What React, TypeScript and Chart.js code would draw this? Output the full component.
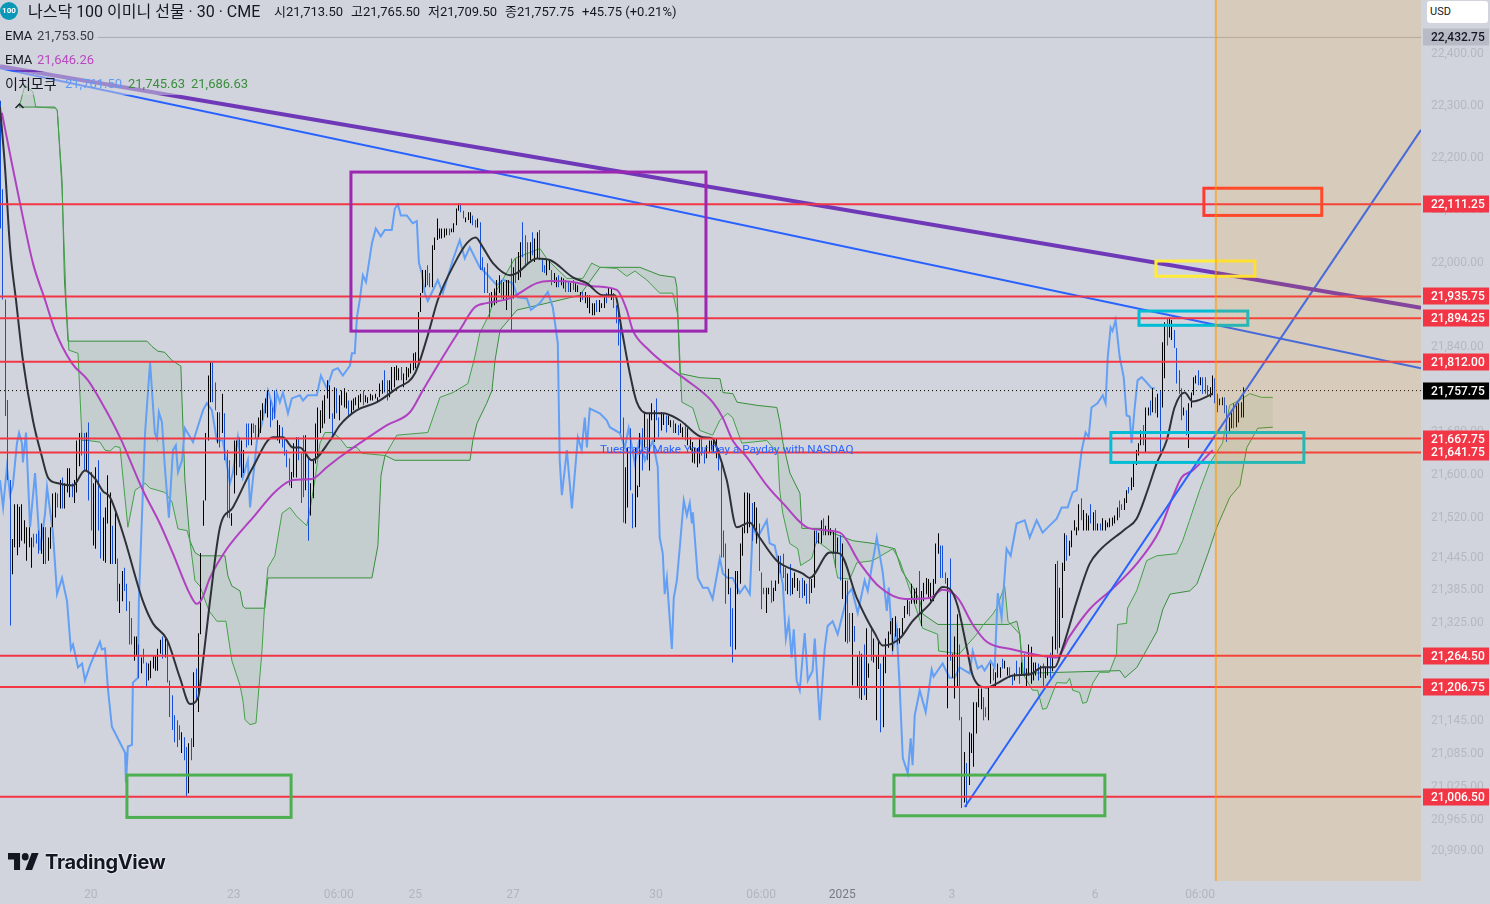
import React, { useEffect, useRef } from "react";
import { Chart, registerables } from "chart.js";

Chart.register(...registerables);

const Y_MIN = 20854;
const Y_MAX = 22505.5;
const X_MAX = 595.6;

const yTicks = [22400, 22300, 22200, 22100, 22000, 21840, 21680, 21600, 21520, 21445, 21385, 21325, 21145, 21085, 21025, 20965, 20909];
const xTickIdx = [38, 98, 142, 174, 215, 275, 319, 353, 399, 459, 503];
const xTickLabels = ["20", "23", "06:00", "25", "27", "30", "06:00", "2025", "3", "6", "06:00"];
const hLevels = [22111.25, 21935.75, 21894.25, 21812.0, 21667.75, 21641.75, 21264.5, 21206.75, 21006.5];
const lastPrice = 21757.75;
const topPrice = 22432.75;

// [bar index, price]
const ema20: number[][] = [[0,22298],[2.1,22182],[4.2,22029],[6.7,21929],[9.6,21815],[13.8,21702],[17.6,21633],[20.1,21595],[24.3,21584],[30.6,21580],[35.6,21608],[39.8,21593],[43.2,21569],[46.1,21558],[51.5,21491],[59.9,21365],[64.1,21324],[70,21294],[75.4,21224],[79.6,21176],[83,21187],[85.1,21255],[88,21365],[92.2,21502],[97.6,21539],[106,21614],[114.4,21670],[118.6,21670],[122.8,21651],[125.7,21651],[130.7,21627],[138.3,21664],[142.5,21693],[149.6,21721],[158,21736],[166.3,21762],[173.9,21790],[179.3,21862],[183.5,21929],[190.6,21999],[195.7,22037],[199.4,22048],[202.4,22029],[206.6,21999],[213.7,21976],[216.6,21980],[225,22008],[230.5,22005],[240.1,21972],[245.9,21961],[252.6,21938],[257.7,21938],[260.6,21872],[264,21790],[266.9,21736],[271.1,21715],[277.8,21715],[284.9,21702],[294.6,21670],[298.7,21668],[300.4,21651],[304.6,21590],[308.8,21502],[314.2,21511],[318.4,21483],[325.6,21440],[336.5,21416],[339.4,21408],[347.8,21455],[352,21453],[359.1,21371],[363.3,21332],[366.6,21306],[370,21283],[377.1,21296],[382.5,21328],[389.7,21360],[395.1,21391],[398,21388],[401.4,21356],[405.2,21279],[407.7,21228],[413.6,21206],[417.7,21213],[424.5,21228],[431.6,21230],[437,21243],[442,21243],[445.4,21279],[451.3,21365],[456.7,21434],[460.9,21459],[471.4,21498],[476.4,21518],[481,21571],[484.8,21621],[489,21664],[492.3,21726],[496.5,21754],[499.9,21737],[502,21739],[508.3,21752]];

const ema60: number[][] = [[0.8,22287],[5,22189],[8.4,22113],[13.8,21999],[18.9,21929],[23,21872],[30.2,21809],[36.9,21777],[44,21724],[50.3,21670],[59.9,21571],[67,21509],[72.5,21453],[79.6,21378],[82.5,21360],[84.6,21369],[88,21408],[95.1,21462],[106,21520],[116,21571],[122.8,21590],[130.7,21592],[137,21614],[142.5,21633],[150.8,21659],[162.2,21693],[171.8,21717],[177.2,21758],[185.6,21821],[192.7,21872],[199,21915],[204,21923],[213.7,21932],[225,21961],[230.5,21965],[240.1,21963],[248.5,21955],[258.5,21948],[262.7,21910],[265.2,21872],[271.1,21838],[282,21796],[287.9,21777],[298.7,21736],[302.9,21707],[307.1,21664],[313,21633],[321.4,21580],[328.1,21547],[339.4,21500],[352,21492],[360.3,21436],[368.7,21391],[379.2,21369],[389.7,21371],[395.1,21386],[401.4,21371],[407.7,21322],[413.6,21290],[424.5,21276],[437,21264],[442.9,21261],[448.3,21300],[456.7,21350],[466.3,21388],[476.4,21434],[486,21496],[491.5,21558],[495.3,21595],[499.9,21608],[508.3,21646]];

const laggingSpan: number[][] = [[0,21590],[1.3,21539],[2.9,21614],[4.2,21562],[5.4,21580],[7.1,21659],[8,21678],[9.2,21659],[9.6,21623],[10.9,21679],[12.6,21502],[14.7,21603],[16.8,21459],[18.9,21528],[19.7,21577],[22.2,21491],[23.9,21378],[26,21408],[28.1,21365],[29.7,21276],[30.6,21285],[32.7,21243],[34.4,21250],[35.6,21219],[37.7,21246],[41.9,21290],[42.7,21276],[44,21278],[45.3,21201],[46.9,21134],[50.3,21105],[52.4,21087],[52.8,21032],[53.6,21098],[55.3,21101],[55.7,21215],[57.8,21224],[58.2,21365],[58.7,21427],[60.8,21678],[62.9,21811],[64.9,21678],[65.8,21668],[66.6,21717],[67.9,21698],[69.1,21614],[70.8,21520],[72.5,21646],[73.7,21655],[74.6,21605],[76.3,21627],[77.5,21687],[80.9,21661],[85.1,21721],[86.7,21734],[88.8,21721],[90.9,21664],[93.4,21664],[96.4,21584],[97.6,21603],[99.7,21670],[101.8,21595],[103.9,21627],[104.8,21539],[107.7,21664],[109.8,21696],[112.3,21758],[115.2,21715],[116,21754],[117.3,21736],[118.6,21754],[120.7,21715],[122.3,21743],[125.7,21749],[127,21739],[129,21749],[132.8,21749],[134.5,21786],[137,21762],[139.5,21796],[141.6,21800],[143.7,21786],[146.7,21805],[147.5,21828],[148.7,21828],[149.6,21896],[150.8,21929],[152.1,21976],[153.4,21963],[155.9,22037],[157.5,22065],[159.6,22050],[161.3,22062],[164.2,22062],[165.5,22103],[166.8,22111],[168,22090],[170.5,22090],[173,22075],[174.7,22079],[175.6,21999],[176.8,21980],[178,21942],[179.3,21927],[183.5,21967],[185.6,21942],[189.8,22005],[192.7,22043],[194.8,22008],[196.9,22029],[201.1,21991],[204.5,21976],[208.2,21957],[210.8,21967],[214.9,21961],[217,21934],[220.8,21932],[222.5,21910],[226.3,21923],[229.6,21944],[231.7,21915],[233.8,21847],[234.6,21627],[235.5,21562],[237.6,21646],[239.7,21537],[242.2,21670],[243.8,21646],[245.1,21707],[246,21651],[247.2,21724],[251.4,21715],[254.3,21702],[255.6,21689],[259.8,21678],[261.9,21651],[263.5,21687],[266.1,21621],[268.2,21670],[270.3,21627],[273.6,21664],[275.7,21614],[276.5,21483],[277.8,21453],[278.6,21378],[279.5,21408],[281.6,21277],[282.4,21371],[283.7,21403],[284.9,21464],[286.6,21552],[287.9,21524],[289.1,21547],[290,21509],[290.4,21530],[292.5,21408],[294.6,21390],[296.7,21390],[298.7,21369],[301.7,21444],[303,21416],[305,21408],[307.1,21408],[310.1,21380],[312.2,21393],[314.3,21378],[315.5,21502],[317.6,21483],[321.4,21515],[322.6,21472],[324.7,21468],[328.1,21397],[329.4,21296],[330.6,21328],[331.8,21261],[332.7,21313],[333.9,21219],[335.2,21201],[337.3,21306],[338.6,21219],[340.6,21237],[341.5,21296],[343.6,21146],[345.7,21279],[346.9,21319],[349,21328],[351.1,21304],[353.2,21341],[355.3,21378],[357,21388],[359.5,21343],[362.4,21403],[363.7,21384],[367.5,21483],[370,21418],[371.7,21347],[372.5,21390],[374.2,21276],[375.8,21315],[377.1,21206],[378.4,21077],[380.5,21049],[381.7,21113],[382.5,21064],[383.4,21155],[385.5,21201],[388,21161],[390.5,21239],[391.3,21226],[395.1,21250],[398,21224],[400.1,21224],[402.2,21243],[406.4,21232],[407.7,21273],[409.8,21241],[411.5,21246],[412.7,21237],[415.2,21255],[416.9,21243],[418.2,21380],[419.8,21334],[421.9,21462],[423.6,21449],[426.1,21509],[429.5,21515],[431.6,21483],[434.5,21515],[437,21492],[439.9,21505],[442.9,21518],[445,21539],[447.5,21539],[449.6,21567],[451.3,21571],[453.4,21646],[455,21679],[456.3,21670],[457.5,21726],[460,21734],[462.2,21749],[463.4,21734],[464.3,21821],[465.5,21877],[466.3,21870],[467.6,21891],[469.3,21821],[471,21783],[472.2,21711],[473.5,21709],[474.3,21659],[475.6,21726],[476.8,21777],[478.5,21783],[480.6,21773],[482.7,21762],[484,21762]];

const spanA: number[][] = [[8,22298],[10.5,22341],[13.8,22327],[15,22298],[23,22296],[24,22292],[26,22140],[27.7,21928],[28.9,21834],[32.7,21828],[34.4,21664],[36.9,21664],[41.9,21661],[44,21646],[46.1,21644],[48.2,21653],[50.3,21651],[53.6,21502],[56.6,21571],[60.8,21584],[62.9,21575],[69.1,21567],[72.1,21549],[74.6,21499],[78.4,21496],[79.6,21477],[81.7,21403],[83.8,21393],[87.6,21347],[90.9,21328],[94.7,21328],[97.2,21255],[100.6,21210],[101.8,21183],[102.7,21147],[104.8,21138],[107.3,21141],[108.1,21183],[109.8,21273],[111,21365],[112.3,21427],[115.2,21449],[118.2,21528],[121.5,21539],[124.4,21522],[128.6,21505],[129.9,21534],[132,21590],[134.1,21659],[136.2,21679],[139.5,21679],[142.5,21668],[145.4,21651],[149.6,21651],[151.7,21640],[161.4,21636],[166.3,21674],[179.3,21679],[184.4,21745],[189.8,21754],[196.1,21771],[199,21821],[201.1,21866],[205.3,21904],[208.2,21948],[215.8,22008],[226.3,22027],[229.6,22005],[237.6,21970],[244.3,21970],[248,21999],[251.5,21991],[258.5,21989],[262.7,21974],[266.1,21984],[271.1,21967],[276.5,21942],[282,21942],[284.1,21900],[285.8,21736],[290.4,21725],[293.3,21683],[298.7,21674],[301.7,21702],[305,21715],[307.1,21707],[310.9,21659],[321.4,21664],[326,21640],[326.8,21571],[328.1,21528],[331,21472],[334.4,21462],[335.6,21431],[340.2,21444],[342.3,21477],[349,21455],[351.1,21408],[356.2,21406],[359.1,21436],[365.8,21440],[374.2,21462],[377.1,21440],[380,21403],[382.5,21371],[386.7,21315],[393,21304],[393.4,21273],[402.2,21268],[409.4,21304],[411.9,21320],[416.1,21341],[417.7,21352],[421.1,21393],[422.5,21328],[427.4,21304],[428.6,21232],[432.8,21201],[434.9,21201],[437,21166],[438.7,21168],[442.9,21215],[447.1,21214],[448.3,21223],[449.6,21201],[452.5,21197],[453.8,21177],[455.5,21179],[458,21214],[460.9,21234],[465,21234],[468,21268],[468.4,21322],[472.2,21324],[472.6,21352],[476.4,21384],[480.6,21440],[484.8,21449],[493.2,21453],[495.7,21477],[498.6,21515],[502.8,21571],[507,21621],[512.4,21659],[515.4,21730],[520.8,21743],[523.8,21752],[528.8,21745],[533.5,21745]];

const spanB: number[][] = [[8,22298],[15,22298],[23,22298],[24,22292],[26,22157],[27,21967],[28.5,21851],[61.6,21851],[63.7,21841],[66.2,21832],[69,21830],[72,21815],[75.8,21804],[76.3,21739],[77.5,21590],[79.6,21477],[81.7,21455],[83.8,21449],[94.3,21449],[95.5,21412],[97.2,21393],[100.6,21384],[101.8,21356],[102.7,21352],[111,21352],[112.3,21408],[155.9,21408],[158.4,21468],[159.7,21599],[161.4,21636],[165.5,21627],[197,21627],[198.2,21664],[199.9,21696],[204,21734],[206.2,21758],[207.5,21815],[209.6,21872],[216.7,21910],[229.3,21923],[243,21938],[251.5,21991],[268.2,21991],[276.6,21976],[282.9,21972],[283.7,21953],[285,21790],[293.4,21782],[301.8,21780],[303,21754],[307.2,21752],[308.9,21736],[317.3,21730],[325.6,21726],[326.9,21698],[328.2,21659],[331.1,21603],[335.3,21565],[336.1,21500],[343.7,21500],[357.5,21477],[365.9,21472],[375.1,21462],[378,21421],[382.7,21390],[385.6,21365],[386.8,21341],[393.1,21322],[422.5,21322],[426.2,21328],[427.5,21303],[428.8,21232],[469.4,21237],[471.5,21224],[476.5,21243],[484.9,21309],[487.4,21350],[490.4,21378],[498.7,21384],[501.7,21397],[506.3,21453],[510,21502],[515.5,21558],[519.7,21580],[522.6,21651],[527.2,21687],[533.5,21689]];

// one bar per 30 minutes, in order: [high, low, closedUp]
const bars: number[][] = [
[22310,22065,0],[22140,21930,0],[21930,21710,0],[21740,21590,0],[21590,21320,0],[21480,21415,1],[21545,21465,1],[21545,21450,1],[21540,21465,1],[21545,21477,1],
[21515,21472,1],[21502,21440,1],[21502,21465,1],[21483,21427,1],[21490,21465,0],[21490,21472,0],[21496,21453,0],[21509,21453,1],[21502,21434,1],[21502,21434,0],
[21483,21440,1],[21502,21462,1],[21565,21502,1],[21567,21520,1],[21565,21539,0],[21590,21537,1],[21595,21537,0],[21584,21537,1],[21612,21567,1],[21612,21558,1],
[21584,21558,0],[21590,21547,1],[21664,21567,1],[21678,21616,1],[21679,21636,0],[21678,21608,0],[21679,21608,1],[21698,21552,0],[21605,21496,0],[21584,21468,1],
[21614,21462,1],[21627,21496,0],[21567,21444,0],[21520,21440,1],[21539,21436,1],[21599,21509,1],[21567,21434,1],[21505,21434,0],[21530,21434,1],[21444,21365,0],
[21397,21343,1],[21421,21365,1],[21427,21384,0],[21397,21347,0],[21365,21285,0],[21334,21285,0],[21300,21255,1],[21300,21264,1],[21285,21223,0],[21261,21232,1],
[21277,21250,0],[21252,21206,0],[21250,21219,1],[21255,21223,1],[21264,21241,1],[21264,21237,1],[21277,21237,1],[21294,21268,1],[21300,21259,0],[21296,21261,1],
[21290,21215,0],[21219,21152,0],[21192,21128,0],[21155,21106,0],[21146,21097,0],[21137,21110,0],[21124,21086,1],[21115,21073,0],[21097,21006,0],[21104,21013,1],
[21113,21073,0],[21234,21097,1],[21241,21183,0],[21306,21161,1],[21454,21304,1],[21552,21505,1],[21678,21552,1],[21786,21664,1],[21811,21736,1],[21811,21736,0],
[21773,21721,0],[21717,21659,1],[21717,21651,0],[21752,21678,1],[21715,21627,0],[21646,21520,0],[21627,21519,0],[21528,21505,1],[21664,21565,1],[21664,21599,1],
[21670,21614,0],[21664,21595,1],[21646,21603,1],[21696,21651,0],[21696,21655,0],[21696,21655,1],[21696,21678,0],[21693,21668,0],[21707,21670,1],[21721,21678,1],
[21734,21702,1],[21743,21715,1],[21758,21707,1],[21739,21689,0],[21726,21702,0],[21758,21705,0],[21702,21664,1],[21693,21659,1],[21689,21651,0],[21670,21636,0],
[21646,21614,0],[21631,21580,0],[21605,21575,1],[21659,21595,1],[21670,21595,1],[21670,21627,0],[21640,21547,0],[21674,21558,0],[21674,21571,1],[21633,21477,0],
[21584,21524,1],[21627,21556,1],[21696,21621,1],[21726,21636,1],[21721,21678,1],[21739,21687,1],[21749,21696,1],[21777,21743,1],[21768,21705,1],[21715,21670,0],
[21764,21705,1],[21762,21715,0],[21749,21702,1],[21758,21730,1],[21762,21726,1],[21754,21724,1],[21739,21707,0],[21739,21715,1],[21743,21721,1],[21745,21730,1],
[21749,21724,1],[21752,21736,1],[21758,21730,0],[21749,21736,1],[21745,21734,1],[21752,21739,1],[21749,21739,1],[21752,21743,1],[21745,21736,1],[21771,21745,1],
[21777,21752,1],[21796,21754,0],[21777,21739,0],[21777,21745,1],[21802,21758,1],[21802,21764,1],[21805,21777,1],[21800,21777,1],[21802,21777,0],[21790,21764,1],
[21802,21777,1],[21800,21783,1],[21809,21790,1],[21828,21796,1],[21830,21800,1],[21906,21809,1],[21942,21906,1],[21986,21942,1],[21986,21953,1],[21995,21957,0],
[21980,21953,0],[22033,21953,1],[22048,22024,1],[22084,22043,1],[22065,22046,1],[22065,22046,1],[22065,22048,1],[22065,22052,1],[22065,22052,0],[22065,22058,1],
[22075,22058,1],[22103,22071,1],[22113,22099,1],[22113,22096,0],[22099,22084,0],[22086,22077,1],[22096,22081,1],[22096,22075,1],[22090,22071,0],[22081,22067,0],
[22084,22067,1],[22077,21986,0],[22010,21986,0],[21991,21942,0],[21999,21942,0],[21942,21896,0],[21944,21915,1],[21951,21919,1],[21967,21923,1],[21976,21942,1],
[21967,21932,0],[21963,21929,1],[21967,21910,1],[21967,21934,1],[22008,21872,0],[21991,21932,1],[22008,21961,0],[22020,21967,1],[22039,21972,1],[22077,22010,0],
[22052,21991,0],[22039,21999,0],[22039,22005,1],[22058,22014,0],[22046,22001,1],[22058,22008,1],[22062,22005,0],[22005,21982,0],[21995,21980,0],[22005,21976,1],
[22005,21986,1],[21986,21957,0],[21980,21961,1],[21972,21953,1],[21976,21953,0],[21972,21957,1],[21970,21951,1],[21967,21944,0],[21963,21944,0],[21961,21944,1],
[21967,21948,0],[21963,21944,1],[21957,21944,1],[21944,21925,1],[21944,21929,0],[21944,21923,1],[21938,21914,1],[21938,21904,1],[21923,21900,1],[21923,21900,1],
[21929,21906,0],[21929,21906,1],[21923,21914,1],[21934,21914,1],[21942,21923,0],[21953,21934,1],[21951,21929,1],[21942,21914,0],[21919,21885,0],[21904,21843,0],
[21885,21678,0],[21707,21511,0],[21614,21509,1],[21650,21539,1],[21687,21571,0],[21565,21500,0],[21650,21502,1],[21580,21558,1],[21678,21577,1],[21687,21608,0],
[21717,21651,1],[21705,21627,0],[21715,21608,1],[21734,21702,1],[21721,21661,1],[21743,21702,0],[21707,21670,0],[21717,21683,1],[21715,21693,1],[21711,21679,0],
[21711,21693,1],[21702,21689,1],[21702,21678,0],[21696,21678,1],[21693,21674,0],[21696,21678,1],[21689,21670,1],[21696,21664,0],[21687,21655,1],[21670,21646,1],
[21661,21623,1],[21650,21621,1],[21650,21614,1],[21668,21621,1],[21668,21636,0],[21646,21621,0],[21655,21631,1],[21664,21642,1],[21664,21646,1],[21668,21642,1],
[21668,21631,1],[21650,21608,0],[21627,21446,0],[21496,21446,0],[21472,21360,0],[21425,21378,1],[21390,21281,0],[21352,21252,0],[21421,21276,1],[21421,21378,1],
[21472,21397,1],[21502,21449,1],[21567,21491,1],[21567,21491,1],[21565,21502,1],[21547,21477,0],[21549,21502,1],[21539,21472,1],[21509,21421,0],[21418,21350,0],
[21390,21378,0],[21390,21343,1],[21390,21378,1],[21403,21362,0],[21390,21365,1],[21403,21384,1],[21449,21397,1],[21449,21416,0],[21453,21408,0],[21427,21384,0],
[21416,21378,1],[21434,21375,0],[21408,21378,1],[21418,21390,1],[21408,21384,1],[21403,21371,0],[21408,21371,0],[21403,21375,1],[21397,21360,0],[21408,21360,0],
[21406,21380,1],[21496,21390,1],[21496,21472,0],[21492,21472,1],[21515,21472,1],[21519,21487,0],[21505,21487,1],[21524,21487,1],[21500,21487,1],[21496,21453,1],
[21500,21427,0],[21483,21453,1],[21487,21403,0],[21472,21369,1],[21403,21290,1],[21403,21287,0],[21343,21290,0],[21343,21210,1],[21319,21290,0],[21264,21206,1],
[21273,21186,0],[21268,21183,1],[21285,21192,0],[21315,21183,1],[21250,21224,1],[21319,21255,0],[21296,21252,1],[21264,21146,1],[21290,21240,1],[21250,21124,0],
[21264,21133,1],[21296,21232,1],[21309,21279,1],[21328,21304,1],[21334,21273,1],[21337,21300,1],[21315,21285,0],[21315,21287,1],[21334,21304,1],[21356,21334,1],
[21369,21341,1],[21365,21337,0],[21397,21360,1],[21388,21360,1],[21390,21360,1],[21421,21341,0],[21384,21319,1],[21399,21365,1],[21408,21378,1],[21406,21371,1],
[21399,21365,1],[21406,21365,1],[21472,21397,1],[21491,21453,1],[21468,21408,0],[21468,21408,0],[21418,21397,0],[21408,21168,1],[21444,21255,0],[21268,21224,1],
[21300,21186,1],[21341,21206,1],[21285,21146,0],[21152,20986,0],[21088,20996,1],[21068,20988,0],[21124,21028,1],[21122,21086,1],[21179,21061,1],[21179,21122,1],
[21204,21170,1],[21204,21166,1],[21188,21146,0],[21170,21152,0],[21206,21146,1],[21250,21213,1],[21241,21219,0],[21234,21206,1],[21250,21224,1],[21243,21224,1],
[21259,21241,0],[21255,21241,1],[21243,21228,1],[21243,21224,0],[21228,21210,0],[21232,21219,1],[21255,21228,0],[21243,21213,0],[21252,21228,1],[21268,21228,0],
[21241,21206,1],[21285,21228,1],[21281,21213,1],[21252,21219,1],[21252,21228,1],[21250,21219,0],[21246,21224,1],[21250,21206,0],[21243,21223,1],[21264,21228,1],
[21270,21224,0],[21300,21236,1],[21434,21276,1],[21440,21268,0],[21390,21279,1],[21436,21334,1],[21491,21421,1],[21487,21440,0],[21477,21449,1],[21496,21465,1],
[21515,21496,1],[21502,21487,1],[21545,21496,1],[21556,21515,0],[21534,21496,1],[21528,21496,1],[21524,21496,1],[21545,21509,0],[21530,21496,1],[21534,21496,0],
[21509,21496,1],[21509,21496,0],[21519,21496,1],[21515,21496,1],[21511,21502,1],[21519,21502,1],[21520,21505,1],[21524,21509,1],[21539,21515,1],[21552,21520,0],
[21545,21534,0],[21556,21534,1],[21571,21547,1],[21577,21565,0],[21595,21571,1],[21623,21577,1],[21646,21618,1],[21659,21636,1],[21683,21655,1],[21693,21655,0],
[21726,21642,1],[21726,21711,1],[21739,21711,0],[21762,21717,1],[21745,21715,0],[21752,21707,1],[21758,21642,0],[21849,21726,1],[21887,21781,1],[21894,21843,0],
[21896,21858,1],[21891,21853,1],[21872,21838,0],[21838,21771,0],[21796,21752,0],[21762,21702,0],[21726,21711,1],[21721,21674,0],[21734,21650,1],[21754,21726,1],
[21783,21749,1],[21786,21771,1],[21796,21768,0],[21783,21768,1],[21783,21752,0],[21783,21752,0],[21768,21749,0],[21764,21745,1],[21786,21749,1],[21781,21734,0],
[21752,21717,0],[21743,21730,1],[21745,21730,1],[21745,21715,0],[21730,21661,0],[21707,21679,1],[21717,21687,1],[21734,21687,0],[21730,21689,1],[21734,21698,1],
[21736,21707,1],[21764,21707,1]
];

// trend lines: [bar index, price], [bar index, price]
const purpleTrend: number[][] = [[0, 22377], [595.6, 21914]];
const blueTrendDown: number[][] = [[0, 22373], [595.6, 21800]];
const blueTrendUp: number[][] = [[404.4, 20988], [595.6, 22254]];

// boxes: first bar, last bar, upper price, lower price
const purpleBox = [147.1, 295.9, 22173, 21870];
const greenBoxes = [[53.2, 122, 21046, 20969], [374.7, 463.1, 21046, 20972]];
const cyanBoxes = [[465.6, 546.5, 21679, 21623], [477.4, 523, 21908, 21881]];
const yellowBox = [484.5, 526, 22003, 21974];
const redBox = [504.6, 554, 22142, 22090];
const sessionStart = 509.6;

const note = { idx: 251.5, price: 21647, text: "Tuesdays Make Your Day a Payday with NASDAQ" };

const pts = (a: number[][]) => a.map(([x, y]) => ({ x, y }));
const fmt = (v: number) => v.toLocaleString("en-US", { minimumFractionDigits: 2, maximumFractionDigits: 2 });
const FONT = "Roboto, 'Noto Sans CJK KR', sans-serif";

const overlayPlugin = {
  id: "overlay",
  beforeDatasetDraw(_c: any, args: any) {
    if (args.meta.type === "bar") {
      for (const el of args.meta.data) el.x = Math.round(el.x) + 0.5;
    }
  },
  afterDatasetsDraw(chart: any) {
    const { ctx, scales, chartArea } = chart;
    const X = (v: number) => scales.x.getPixelForValue(v);
    const Y = (v: number) => scales.y.getPixelForValue(v);
    ctx.save();
    const box = (b: number[], color: string) => {
      ctx.strokeStyle = color;
      ctx.lineWidth = 3;
      ctx.strokeRect(X(b[0]), Y(b[2]), X(b[1]) - X(b[0]), Y(b[3]) - Y(b[2]));
    };
    box(purpleBox, "#9c27b0");
    greenBoxes.forEach((b) => box(b, "#4caf50"));
    cyanBoxes.forEach((b) => box(b, "#00bcd4"));
    box(yellowBox, "#ffeb3b");
    box(redBox, "#ff3b30");

    ctx.font = `11.7px ${FONT}`;
    ctx.fillStyle = "#2962ff";
    ctx.textAlign = "left";
    ctx.textBaseline = "middle";
    ctx.fillText(note.text, X(note.idx), Y(note.price));

    const zoneX = X(sessionStart);
    ctx.fillStyle = "rgba(255,152,0,0.15)";
    ctx.fillRect(zoneX, chartArea.top, chartArea.right - zoneX, chartArea.bottom - chartArea.top);
    ctx.strokeStyle = "rgba(255,152,0,0.6)";
    ctx.lineWidth = 2;
    ctx.beginPath();
    ctx.moveTo(zoneX, chartArea.top);
    ctx.lineTo(zoneX, chartArea.bottom);
    ctx.stroke();

    // price tags on the axis
    ctx.font = `500 12px ${FONT}`;
    const tag = (v: number, bg: string, fg: string) => {
      const y = Y(v);
      ctx.fillStyle = bg;
      ctx.fillRect(1423, Math.round(y) - 8.5, 66, 17);
      ctx.fillStyle = fg;
      ctx.fillText(fmt(v), 1431, Math.round(y) + 0.5);
    };
    tag(topPrice, "#b8bbc5", "#131722");
    hLevels.forEach((v) => tag(v, "#f23645", "#ffffff"));
    tag(lastPrice, "#000000", "#ffffff");
    ctx.restore();
  },
};

export default function App() {
  const ref = useRef<HTMLCanvasElement | null>(null);
  useEffect(() => {
    document.body.style.margin = "0";
    const lineBase = { type: "line", pointRadius: 0, tension: 0, fill: false, parsing: { xAxisKey: "x", yAxisKey: "y" } };
    const edge = (v: number) => [{ x: 0, y: v }, { x: X_MAX, y: v }];
    const cloud = "rgba(67,160,71,0.09)";
    const chart = new Chart(ref.current as HTMLCanvasElement, {
      type: "line",
      data: {
        datasets: [
          ...hLevels.map((v) => ({ ...lineBase, data: edge(v), borderColor: "#f23645", borderWidth: 2, order: 1 })),
          { ...lineBase, data: edge(topPrice), borderColor: "#a9acb6", borderWidth: 1, order: 9 },
          { ...lineBase, data: edge(lastPrice), borderColor: "#000000", borderWidth: 1, borderDash: [1, 3], order: 2 },
          { ...lineBase, data: pts(purpleTrend), borderColor: "#6f38b8", borderWidth: 4, order: 2 },
          { ...lineBase, data: pts(blueTrendDown), borderColor: "#2962ff", borderWidth: 2, order: 2 },
          { ...lineBase, data: pts(blueTrendUp), borderColor: "#2962ff", borderWidth: 2, order: 2 },
          { ...lineBase, data: pts(ema20), borderColor: "#2f3138", borderWidth: 2, cubicInterpolationMode: "monotone", order: 3 },
          { ...lineBase, data: pts(ema60), borderColor: "#b041c0", borderWidth: 2, cubicInterpolationMode: "monotone", order: 3 },
          {
            type: "bar",
            data: bars.filter((b) => b[2] === 1).map((b) => ({ x: bars.indexOf(b), y: [b[1], b[0]] })),
            backgroundColor: "#000000",
            barThickness: 1,
            grouped: false,
            inflateAmount: 0,
            borderWidth: 0,
            order: 4,
          },
          {
            type: "bar",
            data: bars.filter((b) => b[2] === 0).map((b) => ({ x: bars.indexOf(b), y: [b[1], b[0]] })),
            backgroundColor: "#1750d8",
            barThickness: 1,
            grouped: false,
            inflateAmount: 0,
            borderWidth: 0,
            order: 4,
          },
          { ...lineBase, data: pts(laggingSpan), borderColor: "#639ff5", borderWidth: 2, order: 5 },
          {
            ...lineBase,
            data: pts(spanA),
            borderColor: "#43a047",
            borderWidth: 1,
            order: 6,
            fill: { target: "+1", above: cloud, below: cloud },
          },
          { ...lineBase, data: pts(spanB), borderColor: "#388e3c", borderWidth: 1, order: 6 },
        ],
      } as any,
      options: {
        responsive: false,
        animation: false,
        devicePixelRatio: 1,
        layout: { padding: 0 },
        plugins: { legend: { display: false }, tooltip: { enabled: false }, filler: { propagate: false } },
        scales: {
          x: {
            type: "linear",
            offset: false,
            min: 0,
            max: X_MAX,
            grid: { display: false, drawTicks: false },
            border: { display: false },
            afterFit(s: any) {
              s.height = 23;
              s.paddingLeft = 0;
              s.paddingRight = 0;
            },
            afterBuildTicks(s: any) {
              s.ticks = xTickIdx.map((value) => ({ value }));
            },
            ticks: {
              autoSkip: false,
              maxRotation: 0,
              padding: 7,
              color: (c: any) => (c.tick && c.tick.value === 353 ? "#787b86" : "#b2b5be"),
              font: { family: FONT, size: 12 },
              callback: (v: any) => xTickLabels[xTickIdx.indexOf(Number(v))] ?? "",
            },
          },
          y: {
            type: "logarithmic",
            position: "right",
            min: Y_MIN,
            max: Y_MAX,
            grid: { display: false, drawTicks: false },
            border: { display: false },
            afterFit(s: any) {
              s.width = 69;
              s.paddingTop = 0;
              s.paddingBottom = 0;
            },
            afterBuildTicks(s: any) {
              s.ticks = yTicks.map((value) => ({ value }));
            },
            ticks: {
              autoSkip: false,
              padding: 10,
              color: "#b5b8c1",
              font: { family: FONT, size: 12 },
              callback: (v: any) => fmt(Number(v)),
            },
          },
        },
      } as any,
      plugins: [overlayPlugin] as any,
    } as any);
    return () => chart.destroy();
  }, []);

  const abs = (left: number, top: number, extra: any = {}) => ({
    position: "absolute" as const,
    left,
    top,
    whiteSpace: "nowrap" as const,
    fontFamily: FONT,
    fontSize: 13,
    lineHeight: "18px",
    color: "#131722",
    ...extra,
  });
  const ohlc = [
    ["시", "21,713.50", 274],
    ["고", "21,765.50", 351],
    ["저", "21,709.50", 428],
    ["종", "21,757.75", 505],
  ];

  return (
    <div style={{ position: "relative", width: 1490, height: 904, overflow: "hidden", background: "#d1d4dc" }}>
      <canvas ref={ref} width={1490} height={904} style={{ display: "block", width: 1490, height: 904 }} />
      <div style={abs(0, 24, { width: 98, height: 22, background: "rgba(209,212,220,0.85)" })} />
      <div style={abs(0, 48, { width: 98, height: 22, background: "rgba(209,212,220,0.5)" })} />
      <div style={abs(0, 72, { width: 252, height: 23, background: "rgba(209,212,220,0.5)" })} />
      <div style={abs(0, 2, { width: 18, height: 18, borderRadius: 9, background: "#0b97b7", color: "#fff", fontSize: 8, fontWeight: 700, lineHeight: "18px", textAlign: "center" })}>100</div>
      <div style={abs(28, 2, { fontSize: 16, lineHeight: "20px" })}>나스닥 100 이미니 선물 · 30 · CME</div>
      {ohlc.map(([a, b, x]) => (
        <div key={String(a)} style={abs(Number(x), 3)}>
          {a}
          {b}
        </div>
      ))}
      <div style={abs(582, 3)}>+45.75 (+0.21%)</div>
      <div style={abs(5, 27)}>EMA</div>
      <div style={abs(37, 27, { color: "#3a3d47" })}>21,753.50</div>
      <div style={abs(5, 51)}>EMA</div>
      <div style={abs(37, 51, { color: "#ba47c0" })}>21,646.26</div>
      <div style={abs(5, 75, { fontSize: 14 })}>이치모쿠</div>
      <div style={abs(65, 75, { color: "#5b9cf6" })}>21,761.50</div>
      <div style={abs(128, 75, { color: "#388e3c" })}>21,745.63</div>
      <div style={abs(191, 75, { color: "#388e3c" })}>21,686.63</div>
      <svg style={{ position: "absolute", left: 15, top: 103 }} width="9" height="6" viewBox="0 0 9 6">
        <polyline points="0.5,5 4.5,1 8.5,5" fill="none" stroke="#131722" strokeWidth="1.3" />
      </svg>
      <svg style={{ position: "absolute", left: 8, top: 853 }} width="31" height="17" viewBox="0 4 36 18" preserveAspectRatio="none">
        <path d="M14 22H7V11H0V4h14v18zM28 22h-8l7.5-18h8L28 22z" fill="#131722" />
        <circle cx="20" cy="8" r="4" fill="#131722" />
      </svg>
      <div style={abs(45, 850, { fontFamily: "Inter, sans-serif", fontWeight: 700, fontSize: 20, lineHeight: "24px", letterSpacing: -0.3, textShadow: "0 0 2px #fff, 0 0 2px #fff" })}>TradingView</div>
      <div style={abs(1427, 1, { width: 61, height: 22, background: "#fff", borderRadius: 3, fontSize: 11, lineHeight: "22px", textIndent: 3 })}>USD</div>
    </div>
  );
}
